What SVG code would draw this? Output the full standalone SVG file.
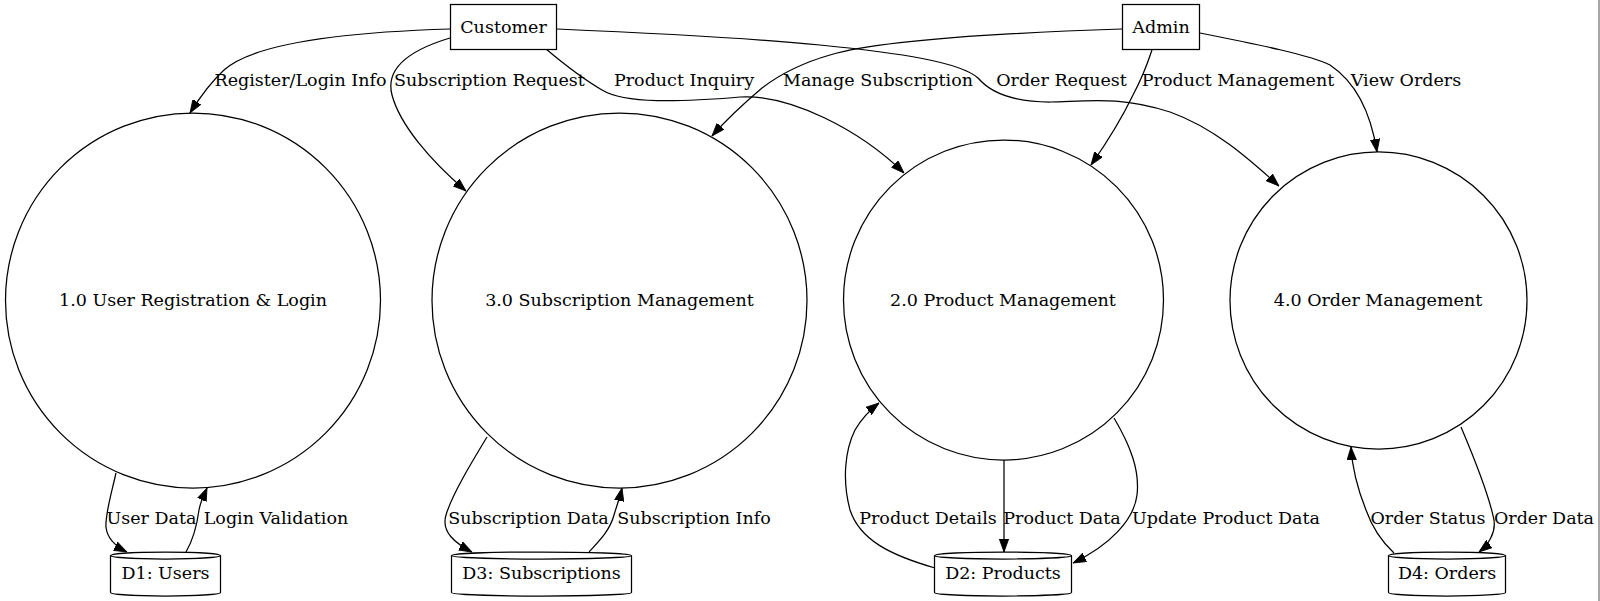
<svg xmlns="http://www.w3.org/2000/svg" width="1600" height="601" viewBox="0 0 1600 601">
<defs>
<style>
text{font-family:"DejaVu Serif","Liberation Serif",serif;font-size:17.5px;fill:#000;text-anchor:middle}
.n{fill:#fff;stroke:#000;stroke-width:1.25}
.e{fill:none;stroke:#000;stroke-width:1.25;marker-end:url(#arr)}
</style>
<marker id="arr" markerUnits="userSpaceOnUse" markerWidth="13" markerHeight="10" refX="12.5" refY="4.5" orient="auto" viewBox="0 0 12.5 9">
<path d="M0,0 L12.5,4.5 L0,9 z" fill="#000" stroke="#000" stroke-width="0.8"/>
</marker>
</defs>
<rect width="1600" height="601" fill="#fff"/>
<line x1="1599" y1="0" x2="1599" y2="601" stroke="#888" stroke-width="1.5"/>
<g id="connectors">
<path class="e" d="M450,29 C350,32 255,42 224,70 C210,83 200,97 190,113"/>
<path class="e" d="M450,38 C410,50 385,68 392,95 C400,125 430,160 466,191"/>
<path class="e" d="M546,49 C565,65 585,80 602,90 C625,104 680,102 740,97 C790,94 860,130 904,173"/>
<path class="e" d="M557,29 C650,33 760,39 820,45 C900,53 960,62 978,78 C990,92 1010,102 1050,102 C1090,101 1120,96 1170,112 C1215,128 1250,160 1279,186"/>
<path class="e" d="M1122,29 C1000,33 880,40 830,55 C795,65 775,78 762,88 C742,105 726,120 712,136"/>
<path class="e" d="M1152,50 C1146,68 1140,82 1133,95 C1120,122 1103,148 1091,165"/>
<path class="e" d="M1200,33 C1260,45 1310,55 1330,65 C1360,85 1372,120 1377,152"/>
<path class="e" d="M116,473 C111,495 105,515 106,527 C107,538 115,546 127,552"/>
<path class="e" d="M186,552 C193,540 197,525 199,510 C201,500 204,495 207,488"/>
<path class="e" d="M487,437 C470,465 452,495 446,515 C441,532 455,543 472,552"/>
<path class="e" d="M589,552 C600,540 610,530 614,515 C617,505 620,497 622,488"/>
<path class="e" d="M935,568 C890,555 860,540 850,510 C842,480 845,450 855,430 C862,418 870,410 879,403"/>
<path class="e" d="M1004,460 L1004,552"/>
<path class="e" d="M1114,418 C1130,445 1140,470 1137,495 C1134,520 1110,545 1073,563"/>
<path class="e" d="M1394,553 C1380,540 1372,527 1366,510 C1356,485 1352,465 1351,447"/>
<path class="e" d="M1461,427 C1475,460 1490,500 1494,520 C1496,533 1488,545 1479,552"/>
<text x="300.5" y="86">Register/Login Info</text>
<text x="489.5" y="86">Subscription Request</text>
<text x="684" y="86">Product Inquiry</text>
<text x="878" y="86">Manage Subscription</text>
<text x="1061.5" y="86">Order Request</text>
<text x="1238" y="86">Product Management</text>
<text x="1406" y="86">View Orders</text>
<text x="151.5" y="524">User Data</text>
<text x="276" y="524">Login Validation</text>
<text x="528.5" y="524">Subscription Data</text>
<text x="694" y="524">Subscription Info</text>
<text x="928" y="524">Product Details</text>
<text x="1062" y="524">Product Data</text>
<text x="1226" y="524">Update Product Data</text>
<text x="1428" y="524">Order Status</text>
<text x="1544" y="524">Order Data</text>
</g>
<g id="customer">
<rect class="n" x="450.5" y="4.5" width="106" height="45"/>
<text x="503.5" y="33">Customer</text>
</g>
<g id="admin">
<rect class="n" x="1122.5" y="4.5" width="77" height="45"/>
<text x="1161" y="33">Admin</text>
</g>
<g id="p1">
<circle class="n" cx="193" cy="300.5" r="187.5"/>
<text x="193" y="306">1.0 User Registration &amp; Login</text>
</g>
<g id="p3">
<circle class="n" cx="619.5" cy="300.5" r="187.5"/>
<text x="619.5" y="306">3.0 Subscription Management</text>
</g>
<g id="p2">
<circle class="n" cx="1003.5" cy="300" r="160"/>
<text x="1003" y="306">2.0 Product Management</text>
</g>
<g id="p4">
<circle class="n" cx="1378.5" cy="300.5" r="148.5"/>
<text x="1378" y="306">4.0 Order Management</text>
</g>
<g id="d1">
<path class="n" d="M110.5,555.5 L110.5,592.5 A55,3.5 0 0 0 220.5,592.5 L220.5,555.5"/>
<ellipse class="n" cx="165.5" cy="555.5" rx="55" ry="3.5"/>
<text x="165.5" y="579">D1: Users</text>
</g>
<g id="d3">
<path class="n" d="M451.5,555.5 L451.5,592.5 A90,3.5 0 0 0 631.5,592.5 L631.5,555.5"/>
<ellipse class="n" cx="541.5" cy="555.5" rx="90" ry="3.5"/>
<text x="541.5" y="579">D3: Subscriptions</text>
</g>
<g id="d2">
<path class="n" d="M934.5,555.5 L934.5,592.5 A68.5,3.5 0 0 0 1071.5,592.5 L1071.5,555.5"/>
<ellipse class="n" cx="1003" cy="555.5" rx="68.5" ry="3.5"/>
<text x="1003" y="579">D2: Products</text>
</g>
<g id="d4">
<path class="n" d="M1388.5,555.5 L1388.5,592.5 A58.5,3.5 0 0 0 1505.5,592.5 L1505.5,555.5"/>
<ellipse class="n" cx="1447" cy="555.5" rx="58.5" ry="3.5"/>
<text x="1447" y="579">D4: Orders</text>
</g>
</svg>
